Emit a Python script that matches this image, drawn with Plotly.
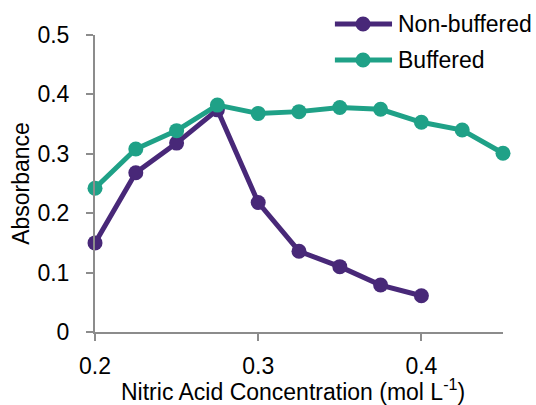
import plotly.graph_objects as go

conc_nonbuf = [0.2, 0.225, 0.25, 0.275, 0.3, 0.325, 0.35, 0.375, 0.4]
abs_nonbuf = [0.150, 0.268, 0.318, 0.374, 0.218, 0.136, 0.110, 0.079, 0.061]

conc_buf = [0.2, 0.225, 0.25, 0.275, 0.3, 0.325, 0.35, 0.375, 0.4, 0.425, 0.45]
abs_buf = [0.242, 0.308, 0.339, 0.382, 0.368, 0.371, 0.378, 0.375, 0.353, 0.340, 0.301]

x_ticks = [0.2, 0.3, 0.4]
x_tick_labels = ["0.2", "0.3", "0.4"]
y_ticks = [0, 0.1, 0.2, 0.3, 0.4, 0.5]
y_tick_labels = ["0", "0.1", "0.2", "0.3", "0.4", "0.5"]

series_names = ["Non-buffered", "Buffered"]
x_title = "Nitric Acid Concentration (mol L<sup>-1</sup>)"
y_title = "Absorbance"

PURPLE = "#482878"
GREEN = "#1FA187"
AXIS = "#8c8c8c"
FONT = "Arial, Liberation Sans, sans-serif"

fig = go.Figure()
fig.add_trace(go.Scatter(x=conc_nonbuf, y=abs_nonbuf, mode="lines+markers", name=series_names[0],
                         line=dict(color=PURPLE, width=5), marker=dict(color=PURPLE, size=15),
                         cliponaxis=False, showlegend=False))
fig.add_trace(go.Scatter(x=conc_buf, y=abs_buf, mode="lines+markers", name=series_names[1],
                         line=dict(color=GREEN, width=5), marker=dict(color=GREEN, size=15),
                         cliponaxis=False, showlegend=False))

# custom legend (longer line samples as in the reference)
legend_rows = [(series_names[0], PURPLE, 1.037), (series_names[1], GREEN, 0.916)]
lx0, lx1, lxm, ltx = 0.588, 0.728, 0.657, 0.738
for name, color, ly in legend_rows:
    fig.add_shape(type="line", xref="paper", yref="paper", x0=lx0, x1=lx1, y0=ly, y1=ly,
                  line=dict(color=color, width=5))
    fig.add_shape(type="circle", xref="paper", yref="paper", xsizemode="pixel", ysizemode="pixel",
                  xanchor=lxm, yanchor=ly, x0=-7.5, x1=7.5, y0=-7.5, y1=7.5,
                  fillcolor=color, line=dict(color=color, width=0))
    fig.add_annotation(text=name, xref="paper", yref="paper", x=ltx, y=ly, xanchor="left",
                       yanchor="middle", showarrow=False, font=dict(size=23, color="black"))

# x-axis title
fig.add_annotation(text=x_title, xref="paper", yref="paper", x=0.485, y=-0.196,
                   xanchor="center", yanchor="middle", showarrow=False,
                   font=dict(size=23, color="black"))

fig.update_layout(
    width=536, height=405,
    margin=dict(l=95, r=33, t=35, b=73),
    paper_bgcolor="white", plot_bgcolor="white",
    font=dict(family=FONT, size=23, color="black"),
    showlegend=False,
    xaxis=dict(range=[0.2, 0.45], tickvals=x_ticks, ticktext=x_tick_labels, automargin=False,
               showgrid=False, zeroline=False, showline=True, linecolor=AXIS, linewidth=2,
               ticks="outside", ticklen=7, tickwidth=2, tickcolor=AXIS, ticklabelstandoff=5,
               tickfont=dict(size=23)),
    yaxis=dict(range=[0, 0.5], tickvals=y_ticks, ticktext=y_tick_labels, automargin=False,
               showgrid=False, zeroline=False, showline=True, linecolor=AXIS, linewidth=2,
               ticks="outside", ticklen=7, tickwidth=2, tickcolor=AXIS,
               ticklabelstandoff=12, tickfont=dict(size=23),
               title=dict(text=y_title, standoff=1, font=dict(size=23))),
)

fig.write_html("out.html")
